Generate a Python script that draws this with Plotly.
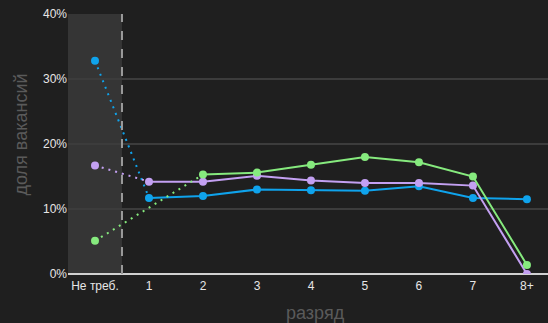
import plotly.graph_objects as go

categories = ["Не треб.", "1", "2", "3", "4", "5", "6", "7", "8+"]
blue_vals = [32.8, 11.7, 12.0, 13.0, 12.9, 12.8, 13.5, 11.7, 11.5]
purple_vals = [16.7, 14.2, 14.2, 15.1, 14.4, 14.0, 14.0, 13.6, 0.0]
green_vals = [5.1, None, 15.3, 15.6, 16.8, 18.0, 17.2, 15.0, 1.4]
y_ticks = [0, 10, 20, 30, 40]
y_tick_labels = ["0%", "10%", "20%", "30%", "40%"]
x_title = "разряд"
y_title = "доля вакансий"

series = [
    (blue_vals, "#0fa3ec"),
    (purple_vals, "#c3a0f2"),
    (green_vals, "#86ea7e"),
]

xs = list(range(len(categories)))
fig = go.Figure()

for vals, color in series:
    nxt = next(i for i in range(1, len(vals)) if vals[i] is not None)
    fig.add_trace(go.Scatter(
        x=[xs[0], xs[nxt]], y=[vals[0], vals[nxt]], mode="lines",
        line=dict(color=color, width=2, dash="2px,5px"), hoverinfo="skip", showlegend=False))
    sx = [xs[i] for i in range(nxt, len(vals)) if vals[i] is not None]
    sy = [vals[i] for i in range(nxt, len(vals)) if vals[i] is not None]
    fig.add_trace(go.Scatter(
        x=sx, y=sy, mode="lines+markers",
        line=dict(color=color, width=2), marker=dict(color=color, size=8), showlegend=False))
    fig.add_trace(go.Scatter(
        x=[xs[0]], y=[vals[0]], mode="markers",
        marker=dict(color=color, size=8), showlegend=False))

fig.add_shape(type="rect", xref="x", yref="paper", x0=-0.5, x1=0.5, y0=0, y1=1,
              fillcolor="rgba(255,255,255,0.1)", line=dict(width=0), layer="below")
fig.add_shape(type="line", xref="x", yref="paper", x0=0.5, x1=0.5, y0=0, y1=1,
              line=dict(color="#9a9a9a", width=2, dash="dash"))

fig.add_annotation(text=x_title, xref="paper", yref="paper", x=0.515, y=-0.15,
                   xanchor="center", yanchor="middle", showarrow=False,
                   font=dict(size=18, color="#5a5a5a"))
fig.add_annotation(text=y_title, xref="paper", yref="paper", x=-0.097, y=0.538,
                   xanchor="center", yanchor="middle", showarrow=False, textangle=-90,
                   font=dict(size=18, color="#5a5a5a"))

fig.update_layout(
    width=548, height=323,
    margin=dict(l=68, r=0, t=14, b=49),
    paper_bgcolor="#1f1f1f", plot_bgcolor="#1f1f1f",
    font=dict(family="Liberation Sans, Arial, sans-serif", color="#e6e6e6", size=12),
    xaxis=dict(
        tickmode="array", tickvals=xs, ticktext=categories,
        range=[-0.5, 8.39], showgrid=False, zeroline=False, showline=False,
        ticks="", tickfont=dict(size=12, color="#e6e6e6"), ticklabelstandoff=3,
    ),
    yaxis=dict(
        tickmode="array", tickvals=y_ticks, ticktext=y_tick_labels,
        range=[0, 40], showgrid=True, gridcolor="#3c3c3c", gridwidth=2,
        zeroline=True, zerolinecolor="#d0d0d0", zerolinewidth=2,
        showline=False, ticks="", tickfont=dict(size=12, color="#e6e6e6"),
    ),
)

fig.write_html(
    "out.html",
    config={"displayModeBar": False},
    post_script="document.body.style.margin='0';document.body.style.background='#1f1f1f';",
)
